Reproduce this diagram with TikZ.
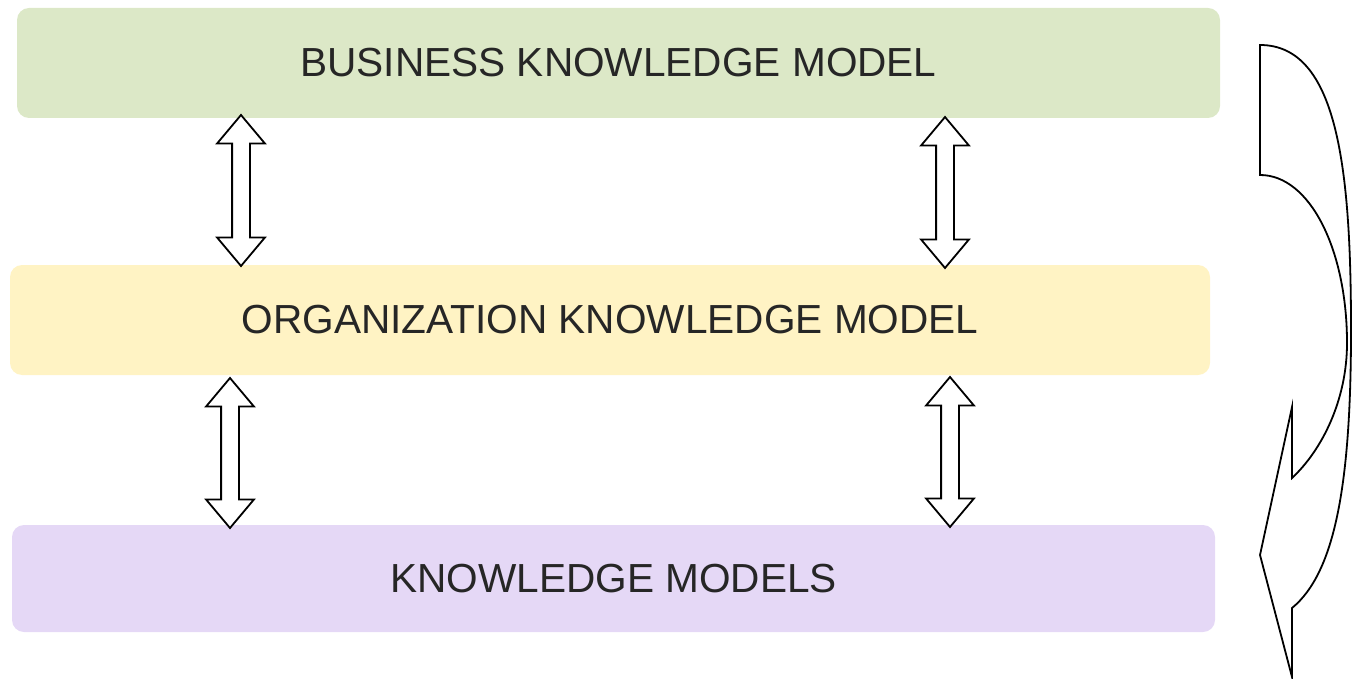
\documentclass[tikz,border=0pt]{standalone}
\usepackage{fontspec}
\setmainfont{Liberation Sans}
\usepackage{tikz}
\usetikzlibrary{calc,shapes.arrows}

\definecolor{bizgreen}{HTML}{DCE8C7}
\definecolor{orgyellow}{HTML}{FFF3C4}
\definecolor{kmpurple}{HTML}{E5D8F6}

\begin{document}
\begin{tikzpicture}[x=0.5pt, y=-0.5pt,
    layer/.style={rounded corners=6pt, inner sep=0pt, minimum height=55pt,
                  text=black!85, font=\fontsize{20.3}{23}\selectfont},
    dblarrow/.style={double arrow, draw, fill=white, line width=0.9pt, rotate=90,
                     inner xsep=0pt, inner ysep=4pt, double arrow head extend=7.5pt,
                     double arrow tip angle=80}]
                      \useasboundingbox (0,0) rectangle (1353,679);
                      % layers
                      \node [layer, fill=bizgreen, minimum width=601.5pt] (biz) at (618.5, 63) {BUSINESS KNOWLEDGE MODEL};
                      \node [layer, fill=orgyellow, minimum width=600pt] (org) at (610, 320) {ORGANIZATION KNOWLEDGE MODEL};
                      \node [layer, fill=kmpurple, minimum width=601.5pt, minimum height=53.5pt] (km) at (613.5, 578.5) {KNOWLEDGE MODELS};
                      % links between layers
                      \node [dblarrow, minimum height=75.5pt] (bo1) at (241, 190.5) {};
                      \node [dblarrow, minimum height=75.5pt] (bo2) at (945, 192.5) {};
                      \node [dblarrow, minimum height=75pt] (ok1) at (230, 453) {};
                      \node [dblarrow, minimum height=75pt] (ok2) at (950, 452) {};
                      % curved arrow on the right
                      \draw [line width=0.9pt, line join=miter] (1260, 45) .. controls (1338, 45) and (1351, 170) .. (1351, 330)
                            .. controls (1351, 480) and (1336, 572) .. (1292, 608) -- (1292, 677) -- (1260, 555) -- (1292, 407) -- (1292, 478)
                            .. controls (1322, 450) and (1347, 400) .. (1347, 343)
                            .. controls (1347, 250) and (1310, 175) .. (1260, 175) -- cycle;
                  \end{tikzpicture}
\end{document}
